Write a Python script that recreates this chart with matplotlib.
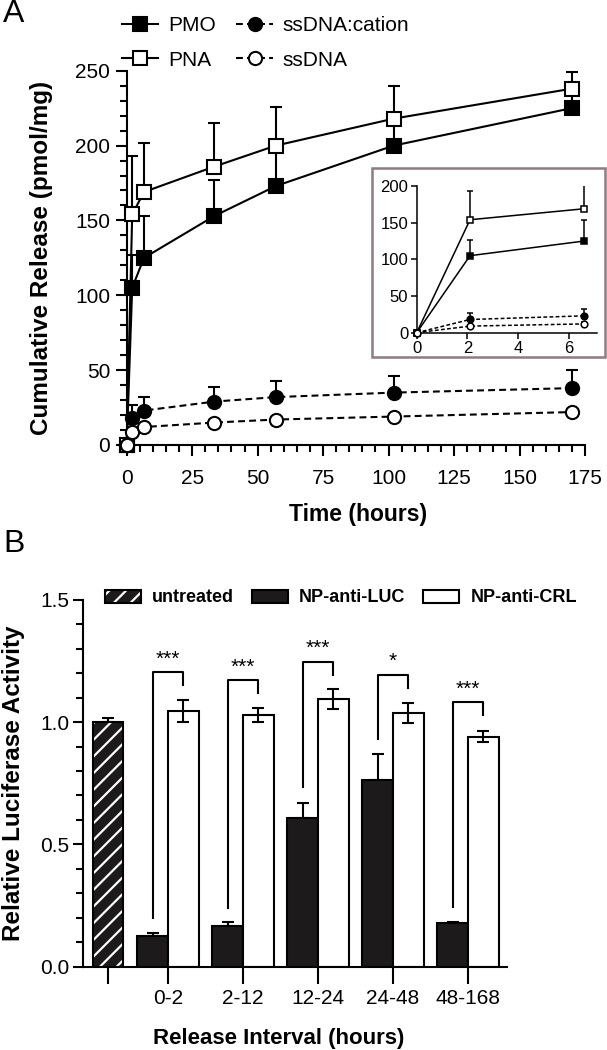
import matplotlib
matplotlib.use('Agg')
import matplotlib.pyplot as plt
from matplotlib.lines import Line2D
from matplotlib.patches import Patch, Rectangle
from matplotlib.legend_handler import HandlerTuple
import numpy as np

plt.rcParams['font.family'] = ['Liberation Sans', 'DejaVu Sans']
plt.rcParams['hatch.linewidth'] = 1.6

# ---- panel A data: cumulative release (pmol/mg) ----
time_h = [0, 2.1, 6.6, 33.5, 57, 102, 170]
pmo = [0, 105, 125, 153, 173, 200, 225]
pmo_err = [0, 22, 28, 24, 28, 15, 10]
pna = [0, 154, 169, 186, 200, 218, 238]
pna_err = [0, 39, 33, 29, 26, 22, 11]
ss_cat = [0, 18, 23, 29, 32, 35, 38]
ss_cat_err = [0, 9, 9, 10, 11, 11, 12]
ss = [0, 9, 12, 15, 17, 19, 22]
ss_err = [0, 2, 2, 2, 2, 2, 2]
n_inset = 3   # first points shown in the inset

# ---- panel B data: relative luciferase activity ----
intervals = ['0-2', '2-12', '12-24', '24-48', '48-168']
untreated = 1.0
untreated_err = 0.015
anti_luc = [0.126, 0.166, 0.607, 0.763, 0.178]
anti_luc_err = [0.011, 0.016, 0.063, 0.105, 0.005]
anti_crl = [1.046, 1.029, 1.095, 1.037, 0.940]
anti_crl_err = [0.045, 0.029, 0.041, 0.042, 0.023]
# bracket: left foot, top, right foot, label
brackets = [(0.20, 1.204, 1.153, '***'),
            (0.24, 1.171, 1.120, '***'),
            (0.735, 1.246, 1.194, '***'),
            (0.93, 1.194, 1.140, '*'),
            (0.244, 1.081, 1.030, '***')]

W, H = 607, 1050
fig = plt.figure(figsize=(W / 100, H / 100), dpi=100)


def px_axes(x0, y0, x1, y1):
    # pixel box (top-left origin) -> figure axes
    return fig.add_axes([x0 / W, 1 - y1 / H, (x1 - x0) / W, (y1 - y0) / H])


def style_axes(ax, lw=1.5):
    for s in ['top', 'right']:
        ax.spines[s].set_visible(False)
    for s in ['left', 'bottom']:
        ax.spines[s].set_linewidth(lw)


series = [
    (pmo, pmo_err, 's', 'black', '-', 'PMO'),
    (pna, pna_err, 's', 'white', '-', 'PNA'),
    (ss_cat, ss_cat_err, 'o', 'black', (0, (3.3, 2)), 'ssDNA:cation'),
    (ss, ss_err, 'o', 'white', (0, (3.3, 2)), 'ssDNA'),
]

# ================= panel A =================
axA = px_axes(126.7, 70.7, 585, 445)
style_axes(axA)
handles = []
for vals, err, mk, fc, ls, lab in series:
    axA.errorbar(time_h, vals, yerr=[np.zeros(len(err)), err], fmt='none',
                 ecolor='black', elinewidth=1.5, capsize=4, capthick=1.5,
                 zorder=2, clip_on=False)
    axA.plot(time_h, vals, linestyle=ls, color='black', lw=1.5, marker=mk,
             ms=9.5, mfc=fc, mec='black', mew=1.5, zorder=3, clip_on=False)
    handles.append(Line2D([], [], linestyle=ls, color='black', lw=1.5, marker=mk,
                          ms=9.5, mfc=fc, mec='black', mew=1.5, label=lab))
axA.set_xlim(0, 175)
axA.set_ylim(0, 250)
axA.set_xticks(np.arange(0, 176, 25))
axA.set_xticks(np.arange(0, 176, 5), minor=True)
axA.set_yticks(np.arange(0, 251, 50))
axA.set_yticks(np.arange(0, 251, 10), minor=True)
axA.tick_params(which='major', length=8, width=1.5, labelsize=15, pad=4)
axA.tick_params(which='minor', length=5, width=1.5)
axA.tick_params(axis='x', which='major', pad=9)
axA.set_xlabel('Time (hours)', fontsize=16.5, fontweight='bold')
axA.set_ylabel('Cumulative Release (pmol/mg)', fontsize=17.5, fontweight='bold')
axA.xaxis.set_label_coords(0.505, -0.155)
axA.yaxis.set_label_coords(-0.16, 0.5)

fig.legend(handles=handles, ncol=2,
           loc='upper left', bbox_to_anchor=(122 / W, 1 - 16 / H),
           frameon=False, fontsize=15, handlelength=1.75, handletextpad=0.45,
           columnspacing=1.0, labelspacing=0.75, borderpad=0, borderaxespad=0)

# inset with frame
fig.add_artist(Rectangle((372 / W, 1 - 357 / H), 233 / W, 189 / H,
                         transform=fig.transFigure, fill=False,
                         edgecolor='#8c7c84', lw=1.8))
axI = px_axes(416.7, 186, 597, 332.7)
style_axes(axI, lw=1.1)
for vals, err, mk, fc, ls, lab in series:
    axI.errorbar(time_h[:n_inset], vals[:n_inset],
                 yerr=[np.zeros(n_inset), err[:n_inset]], fmt='none',
                 ecolor='black', elinewidth=1.1, capsize=2.5, capthick=1.1, zorder=2)
    ils = '-' if ls == '-' else (0, (2.5, 1.5))
    axI.plot(time_h[:n_inset], vals[:n_inset], linestyle=ils, color='black',
             lw=1.1, marker=mk, ms=4.8, mfc=fc, mec='black', mew=1.1,
             zorder=3, clip_on=False)
axI.set_xlim(0, 7.1)
axI.set_ylim(0, 200)
axI.set_xticks([0, 2, 4, 6])
axI.set_yticks([0, 50, 100, 150, 200])
axI.tick_params(length=4, width=1.1, labelsize=12, pad=2)

# ================= panel B =================
axB = px_axes(83, 599.7, 507, 966.7)
style_axes(axB)
bw = 0.41
centers = 0.8 + np.arange(len(intervals))
black = '#1c1a1b'

axB.bar(0, untreated, bw, color=black, edgecolor='white', hatch='//', lw=0, zorder=2)
axB.bar(0, untreated, bw, fill=False, edgecolor='black', lw=1.5, zorder=3)
axB.errorbar(0, untreated, yerr=[[0], [untreated_err]], fmt='none', ecolor='black',
             elinewidth=1.5, capsize=4, capthick=1.5, zorder=1)

axB.bar(centers - bw / 2, anti_luc, bw, color=black, edgecolor='black', lw=1.5, zorder=2)
axB.errorbar(centers - bw / 2, anti_luc, yerr=[np.zeros(len(anti_luc)), anti_luc_err],
             fmt='none', ecolor='black', elinewidth=1.5, capsize=4, capthick=1.5, zorder=1)
axB.bar(centers + bw / 2, anti_crl, bw, color='white', edgecolor='black', lw=1.5, zorder=2)
axB.errorbar(centers + bw / 2, anti_crl, yerr=anti_crl_err, fmt='none', ecolor='black',
             elinewidth=1.5, capsize=4, capthick=1.5, zorder=3)

for c, (lo, top, hi, lab) in zip(centers, brackets):
    xl, xr = c - bw / 2, c + bw / 2
    axB.plot([xl, xl, xr, xr], [lo, top, top, hi], color='black', lw=1.5, zorder=4)
    axB.text(c, top + 0.015, lab, ha='center', va='bottom', fontsize=15)

axB.set_xlim(-0.333, 5.32)
axB.set_ylim(0, 1.5)
axB.set_xticks(np.concatenate([[0], centers]))
axB.set_xticklabels([''] + intervals)
axB.set_yticks([0, 0.5, 1.0, 1.5])
axB.set_yticks(np.arange(0, 1.51, 0.1), minor=True)
axB.yaxis.set_major_formatter(matplotlib.ticker.FormatStrFormatter('%.1f'))
axB.tick_params(which='major', length=7, width=1.5, labelsize=15, pad=3)
axB.tick_params(which='minor', length=5, width=1.5)
axB.tick_params(axis='x', length=12, pad=4)
axB.set_xlabel('Release Interval (hours)', fontsize=16, fontweight='bold')
axB.set_ylabel('Relative Luciferase Activity', fontsize=17.5, fontweight='bold')
axB.xaxis.set_label_coords(0.462, -0.167)
axB.yaxis.set_label_coords(-0.137, 0.5)

h_untr = (Patch(facecolor=black, edgecolor='white', hatch='//', lw=0),
          Patch(fill=False, edgecolor='black', lw=1.5))
h_luc = Patch(facecolor=black, edgecolor='black', lw=1.5)
h_crl = Patch(facecolor='white', edgecolor='black', lw=1.5)
fig.legend([h_untr, h_luc, h_crl], ['untreated', 'NP-anti-LUC', 'NP-anti-CRL'],
           handler_map={tuple: HandlerTuple(ndivide=1)}, ncol=3,
           loc='center left', bbox_to_anchor=(105 / W, 1 - 598 / H),
           frameon=False, prop={'weight': 'bold', 'size': 13},
           handlelength=2.0, handleheight=0.7, handletextpad=0.6,
           columnspacing=1.0, borderpad=0, borderaxespad=0)

fig.text(3 / W, 1 - 14 / H, 'A', fontsize=23, va='center', ha='left')
fig.text(3 / W, 1 - 544 / H, 'B', fontsize=23, va='center', ha='left')

fig.savefig('out.png', dpi=100)
